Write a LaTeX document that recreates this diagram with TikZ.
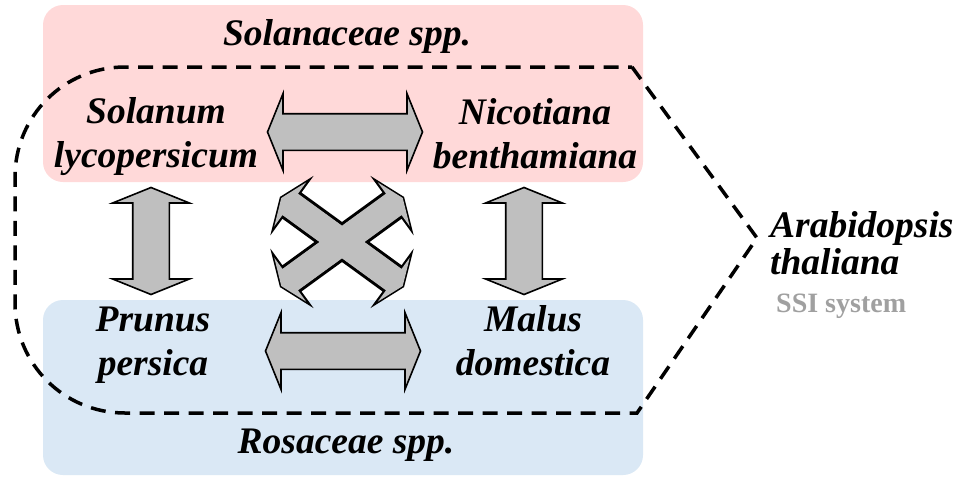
\documentclass[tikz,border=0pt]{standalone}
\usepackage{fontspec}
\setmainfont{Liberation Serif}
\usetikzlibrary{shapes.arrows}

\definecolor{solpink}{RGB}{255,217,217}
\definecolor{rosblue}{RGB}{218,232,245}
\definecolor{arrowgray}{RGB}{191,191,191}
\definecolor{ssigray}{RGB}{160,160,160}

\begin{document}
\begin{tikzpicture}
[x=1pt,y=-1pt,%
  every node/.style={inner sep=0pt,font=\fontsize{37.5}{44}\selectfont\bfseries\itshape},%
  species/.style={align=center,anchor=base},%
  twoway/.style={double arrow,fill=arrowgray,text height=#1,text depth=0pt,%
    double arrow tip angle=136,font=\normalsize},%
  horiz/.style={twoway=35pt,double arrow head extend=20pt,minimum height=155pt,draw,line width=1.6pt},%
  vert/.style={horiz,rotate=90,minimum height=107pt},%
  cross/.style={twoway=26pt,double arrow head extend=14pt,minimum height=150pt}]

\useasboundingbox[fill=white] (0,0) rectangle (958,477);

% family boxes
\fill[solpink,rounded corners=20pt] (43,5) rectangle (643,182);
\fill[rosblue,rounded corners=20pt] (43,300) rectangle (643,475);

% SSI outline
\draw[line width=3.5pt,dash pattern=on 15pt off 9.5pt]
  (632,67) -- (757,238) -- (637,413) -- (125,413)
  .. controls (64,413) and (15,364) .. (15,303) -- (15,177)
  .. controls (15,116) and (64,67) .. (125,67) -- cycle;

% arrows
\node[horiz] (top) at (345,132) {};
\node[horiz] (bot) at (343,351) {};
\node[vert] (left) at (151,241) {};
\node[vert] (right) at (524,241) {};
\foreach \a in {36,-36}
  \node[cross,draw,line width=3.2pt,rotate=\a] at (342,242) {};
\foreach \a in {36,-36}
  \node[cross,rotate=\a] at (342,242) {};

% texts (base = last line)
\node[anchor=base] (sol) at (347,45) {Solanaceae spp.};
\node[anchor=base] (ros) at (346,453) {Rosaceae spp.};
\node[species] (sl) at (156,167) {Solanum\\lycopersicum};
\node[species] (nb) at (535,168) {Nicotiana\\benthamiana};
\node[species] (pp) at (153,375) {Prunus\\persica};
\node[species] (md) at (533,375) {Malus\\domestica};
\node[align=left,anchor=base west,font=\fontsize{37.5}{37}\selectfont\bfseries\itshape]
  (at) at (770,274) {Arabidopsis\\thaliana};
\node[anchor=base west,text=ssigray,font=\fontsize{28}{30}\selectfont\bfseries]
  (ssi) at (776,312) {SSI system};
\end{tikzpicture}
\end{document}
